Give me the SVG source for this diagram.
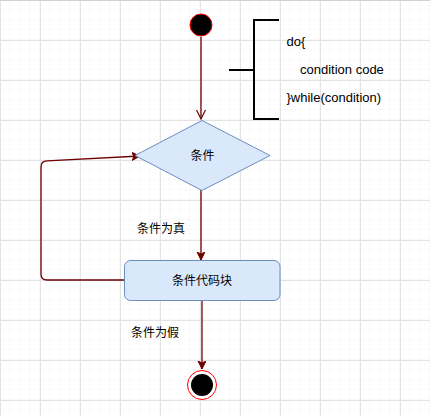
<svg xmlns="http://www.w3.org/2000/svg" width="430" height="416" viewBox="0 0 430 416">
<defs>
<pattern id="minor" width="10" height="10" patternUnits="userSpaceOnUse">
<path d="M10 0 V10 M0 10 H10" fill="none" stroke="#f3f3f3" stroke-width="1"/>
</pattern>
<pattern id="major" width="40" height="40" patternUnits="userSpaceOnUse">
<rect width="40" height="40" fill="url(#minor)"/>
<path d="M0.5 0 V40 M0 0.5 H40" fill="none" stroke="#e3e3e3" stroke-width="1"/>
</pattern>
<marker id="filled" markerWidth="10" markerHeight="10" refX="8" refY="4" orient="auto" markerUnits="userSpaceOnUse">
<path d="M0,0 L8,4 L0,8 L2,4 z" fill="#6f0000" stroke="#6f0000" stroke-width="1"/>
</marker>
<marker id="open" markerWidth="12" markerHeight="12" refX="9" refY="5" orient="auto" markerUnits="userSpaceOnUse">
<path d="M0,0.5 L9,5 L0,9.5" fill="none" stroke="#6f0000" stroke-width="1.2"/>
</marker>
</defs>
<style>
.edge{fill:none;stroke:#6f0000;stroke-width:1.3}
.node{fill:#dae8fc;stroke:#6c8ebf;stroke-width:1}
.cn{font-family:"Liberation Sans","Noto Sans CJK SC",sans-serif;font-size:12px;fill:#000}
.code{font-family:"Liberation Sans",Arial,sans-serif;font-size:13px;fill:#000}
.brace{fill:none;stroke:#000;stroke-width:2}
</style>
<rect width="430" height="416" fill="#ffffff"/>
<rect width="430" height="416" fill="url(#major)"/>
<line x1="0" y1="0.5" x2="430" y2="0.5" stroke="#d0d0d0" stroke-width="1"/>

<g id="connectors">
<path class="edge" d="M201 37 V119" marker-end="url(#open)"/>
<path class="edge" d="M201 190 V260" marker-end="url(#filled)"/>
<path class="edge" d="M124 280 H47 Q41 280 41 274 V167 Q41 161 47 160.8 L140 156" marker-end="url(#filled)"/>
<path class="edge" d="M202 301 V369" marker-end="url(#filled)"/>
</g>

<g id="start">
<circle cx="201" cy="25" r="11" fill="#000" stroke="#ff0000" stroke-width="1"/>
</g>

<g id="condition">
<polygon class="node" points="202,120.5 270,155.5 202,190.5 135,155.5"/>
<text class="cn" x="202.5" y="159.5" text-anchor="middle">条件</text>
</g>

<g id="code-block">
<rect class="node" x="124.5" y="260.5" width="155.5" height="40" rx="6" ry="6"/>
<text class="cn" x="202" y="285" text-anchor="middle">条件代码块</text>
</g>

<g id="end">
<circle cx="202" cy="385" r="14.5" fill="#fff" stroke="#ff0000" stroke-width="1"/>
<circle cx="202" cy="385" r="11" fill="#000"/>
</g>

<g id="label-true">
<text class="cn" x="161" y="233" text-anchor="middle">条件为真</text>
</g>
<g id="label-false">
<text class="cn" x="155" y="337" text-anchor="middle">条件为假</text>
</g>

<g id="annotation">
<path class="brace" d="M229 70 H254 M279 20 H254 V119 H279"/>
<text class="code" x="286.5" y="46">do{</text>
<text class="code" x="300" y="73.5">condition code</text>
<text class="code" x="286.5" y="102">}while(condition)</text>
</g>
</svg>
